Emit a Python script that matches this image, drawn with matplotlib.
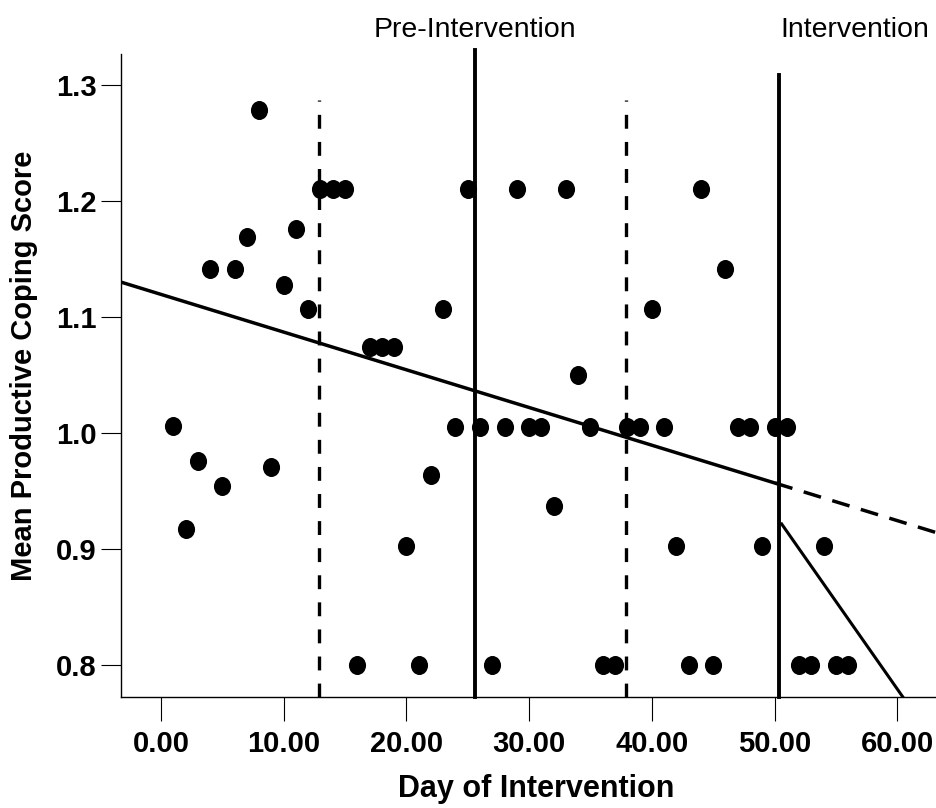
import matplotlib
matplotlib.use("Agg")
import matplotlib.pyplot as plt
from matplotlib.path import Path
import numpy as np

plt.rcParams["font.family"] = ["Liberation Sans", "DejaVu Sans"]
plt.rcParams["lines.scale_dashes"] = False

# daily mean productive coping scores
days = list(range(1, 57))
scores = [
    1.006, 0.917, 0.976, 1.141, 0.954, 1.141, 1.169, 1.278, 0.971, 1.128,
    1.176, 1.107, 1.210, 1.210, 1.210, 0.800, 1.074, 1.074, 1.074, 0.903,
    0.800, 0.964, 1.107, 1.005, 1.210, 1.005, 0.800, 1.005, 1.210, 1.005,
    1.005, 0.937, 1.210, 1.050, 1.005, 0.800, 0.800, 1.005, 1.005, 1.107,
    1.005, 0.903, 0.800, 1.210, 0.800, 1.141, 1.005, 1.005, 0.903, 1.005,
    1.005, 0.800, 0.800, 0.903, 0.800, 0.800,
]

# phase boundaries
dashed_x = [12.9, 37.9]
dashed_top = 1.287
solid_x = [25.55, 50.35]
solid_top = [1.33, 1.309]

# pre-intervention trend (solid, then projected dashed)
pre_intercept = 1.1195
pre_slope = -0.00325
pre_end = 50.05

# intervention trend
int_start = 50.58
int_start_y = 0.9216
int_slope = -0.0151

phase_labels = ["Pre-Intervention", "Intervention"]
phase_label_x = [25.55, 56.57]

xticks = [0, 10, 20, 30, 40, 50, 60]
yticks = [0.8, 0.9, 1.0, 1.1, 1.2, 1.3]

xmin, xmax = -3.29, 64.38
ymin, ymax = 0.7722, 1.3267

# slightly tall dots, as in the original
circ = Path.unit_circle()
dot = Path(circ.vertices * [0.9, 1.0], circ.codes)

fig = plt.figure(figsize=(9.36, 8.08), dpi=100)
ax = fig.add_axes([120.6 / 936, (808 - 697.3) / 808, (951 - 120.6) / 936, (697.3 - 54) / 808])

ax.plot(days, scores, linestyle="none", marker=dot, color="black", ms=13.7, mew=0, zorder=3)

for x in dashed_x:
    ax.plot([x, x], [ymin, dashed_top], color="black", lw=2.4,
            linestyle=(0, (10, 9.5)), clip_on=False)
for x, top in zip(solid_x, solid_top):
    ax.plot([x, x], [ymin, top], color="black", lw=2.8, clip_on=False)

xs = np.array([xmin, pre_end])
ax.plot(xs, pre_intercept + pre_slope * xs, color="black", lw=2.5)
xs = np.array([pre_end, xmax])
ax.plot(xs, pre_intercept + pre_slope * xs, color="black", lw=2.5,
        linestyle=(0, (13, 8.5)))
xs = np.array([int_start, 63])
ax.plot(xs, int_start_y + int_slope * (xs - int_start), color="black", lw=2.2)

for lbl, x in zip(phase_labels, phase_label_x):
    ax.text(x, 1.3416, lbl, ha="center", va="baseline", fontsize=20.5, clip_on=False)

ax.set_xlim(xmin, xmax)
ax.set_ylim(ymin, ymax)
ax.set_xticks(xticks)
ax.set_xticklabels([f"{t:.2f}" for t in xticks])
ax.set_yticks(yticks)
ax.set_yticklabels([f"{t:.1f}" for t in yticks])

for s in ["top", "right"]:
    ax.spines[s].set_visible(False)
for s in ["left", "bottom"]:
    ax.spines[s].set_linewidth(1.0)

ax.tick_params(axis="x", length=17.3, width=0.8, pad=6, labelsize=21)
ax.tick_params(axis="y", length=14.4, width=0.8, pad=3, labelsize=21)
for lbl in ax.get_xticklabels() + ax.get_yticklabels():
    lbl.set_fontweight("bold")

ax.set_xlabel("Day of Intervention", fontsize=22, fontweight="bold", va="center")
ax.xaxis.set_label_coords(0.5, -0.1426)
ax.set_ylabel("Mean Productive Coping Score", fontsize=21, fontweight="bold", va="center")
ax.yaxis.set_label_coords(-0.1163, 0.515)

fig.savefig("out.png", dpi=100)
